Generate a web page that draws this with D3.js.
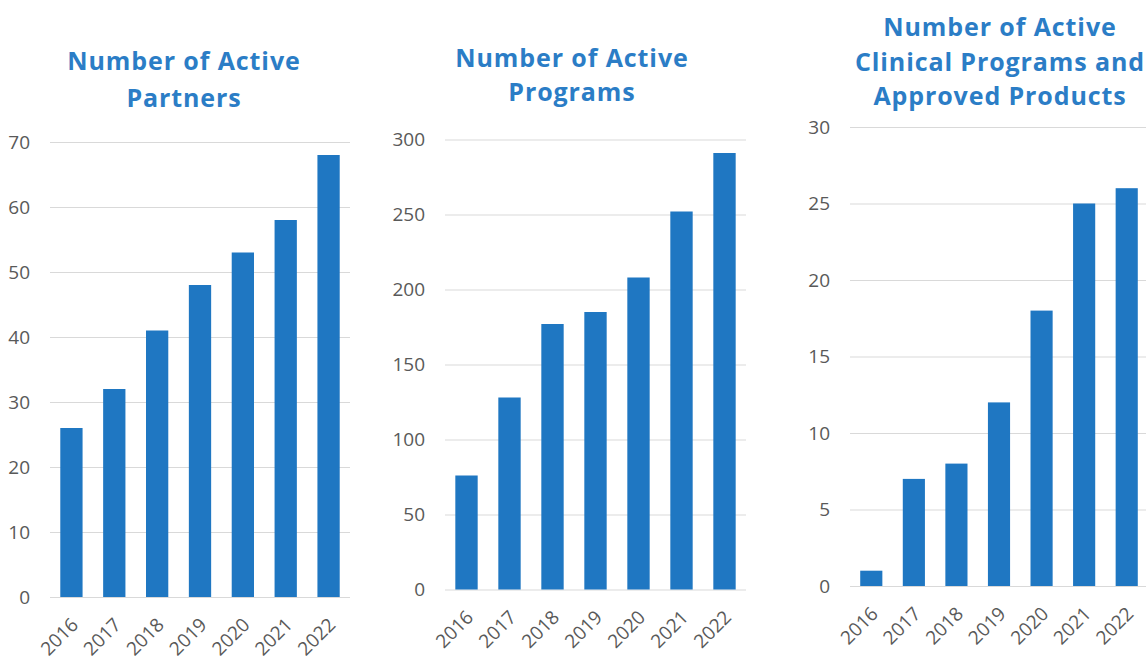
<!DOCTYPE html>
<html>
<head>
<meta charset="utf-8">
<script src="https://cdn.jsdelivr.net/npm/d3@7"></script>
<style>
  body { margin: 0; background: #fff; }
  .tick text { fill: #595959; font-family: "Open Sans", "Noto Sans", sans-serif; }
</style>
</head>
<body>
<svg width="1146" height="661"></svg>
<script>
// data
var years = ["2016", "2017", "2018", "2019", "2020", "2021", "2022"];
var partners = [26, 32, 41, 48, 53, 58, 68];
var programs = [76, 128, 177, 185, 208, 252, 291];
var clinical = [1, 7, 8, 12, 18, 25, 26];

var titles1 = ["Number of Active", "Partners"];
var titles2 = ["Number of Active", "Programs"];
var titles3 = ["Number of Active", "Clinical Programs and", "Approved Products"];

var ticks1 = [0, 10, 20, 30, 40, 50, 60, 70];
var ticks2 = [0, 50, 100, 150, 200, 250, 300];
var ticks3 = [0, 5, 10, 15, 20, 25, 30];

var svg = d3.select("svg");
var barColor = "#1f77c2",
  titleColor = "#2b7dc6",
  gridColor = "#d9d9d9";

// one panel per chart
var panels = [
  {values: partners, title: titles1, ticks: ticks1, max: 70,
   x0: 50, x1: 350, top: 142, bottom: 597, tx: 184, ty: 70, lh: 37},
  {values: programs, title: titles2, ticks: ticks2, max: 300,
   x0: 445, x1: 746, top: 139.5, bottom: 589.5, tx: 572, ty: 67, lh: 34},
  {values: clinical, title: titles3, ticks: ticks3, max: 30,
   x0: 850, x1: 1148, top: 127, bottom: 586, tx: 1000, ty: 36, lh: 34.5}
];

panels.forEach(function (p) {
  var g = svg.append("g");

  var x = d3.scaleBand()
    .domain(years)
    .range([p.x0, p.x1])
    .paddingInner(0.48)
    .paddingOuter(0.24);

  var y = d3.scaleLinear()
    .domain([0, p.max])
    .range([p.bottom, p.top]);

  // gridlines + y labels
  var yAxis = g.append("g")
    .attr("transform", "translate(" + p.x0 + ",0)")
    .call(d3.axisLeft(y).tickValues(p.ticks).tickSize(-(p.x1 - p.x0)).tickPadding(20));
  yAxis.select(".domain").remove();
  yAxis.selectAll(".tick line").attr("stroke", gridColor).attr("stroke-width", 1);
  yAxis.selectAll(".tick text").style("font-size", "19px");

  // bars
  g.selectAll("rect")
    .data(p.values)
    .enter()
    .append("rect")
    .attr("x", function (d, i) { return x(years[i]); })
    .attr("y", function (d) { return y(d); })
    .attr("width", x.bandwidth())
    .attr("height", function (d) { return y(0) - y(d); })
    .attr("fill", barColor);

  // x labels, rotated
  var xAxis = g.append("g")
    .attr("transform", "translate(0," + p.bottom + ")")
    .call(d3.axisBottom(x).tickSize(0).tickPadding(0));
  xAxis.select(".domain").remove();
  xAxis.selectAll(".tick text")
    .style("font-size", "19px")
    .attr("text-anchor", "end")
    .attr("dy", 0)
    .attr("transform", "translate(8,29) rotate(-45)");

  // title
  var t = g.append("text")
    .attr("x", p.tx)
    .attr("y", p.ty)
    .attr("text-anchor", "middle")
    .attr("fill", titleColor)
    .style("font-family", "'Open Sans', 'Noto Sans', sans-serif")
    .style("font-weight", "700")
    .style("font-size", "25px")
    .style("letter-spacing", "0.9px");
  t.selectAll("tspan")
    .data(p.title)
    .enter()
    .append("tspan")
    .attr("x", p.tx)
    .attr("dy", function (d, i) { return i === 0 ? 0 : p.lh; })
    .text(function (d) { return d; });
});
</script>
</body>
</html>
